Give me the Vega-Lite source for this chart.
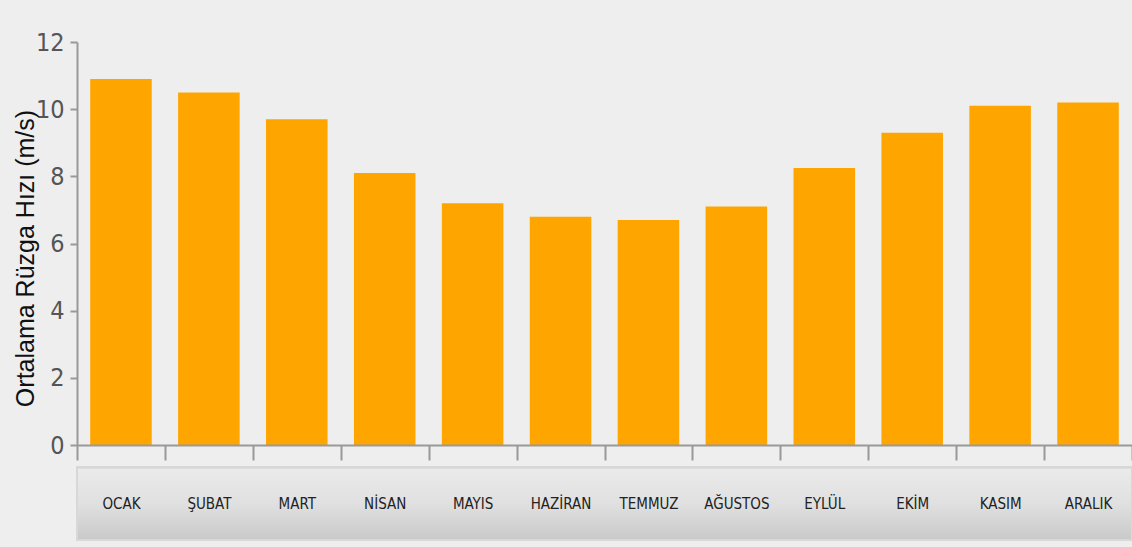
{
  "$schema": "https://vega.github.io/schema/vega-lite/v6.json",
  "autosize": "none",
  "width": 1055,
  "height": 403,
  "padding": {"left": 77, "top": 42, "right": 0, "bottom": 102},
  "background": "#eeeeee",
  "config": {"view": {"stroke": null}},
  "data": {"values": [
    {"ay": "OCAK", "hiz": 10.9},
    {"ay": "ŞUBAT", "hiz": 10.5},
    {"ay": "MART", "hiz": 9.7},
    {"ay": "NİSAN", "hiz": 8.1},
    {"ay": "MAYIS", "hiz": 7.2},
    {"ay": "HAZİRAN", "hiz": 6.8},
    {"ay": "TEMMUZ", "hiz": 6.7},
    {"ay": "AĞUSTOS", "hiz": 7.1},
    {"ay": "EYLÜL", "hiz": 8.25},
    {"ay": "EKİM", "hiz": 9.3},
    {"ay": "KASIM", "hiz": 10.1},
    {"ay": "ARALIK", "hiz": 10.2}
  ]},
  "layer": [
    {
      "mark": {"type": "rect", "clip": false,
        "color": {"gradient": "linear", "x1": 0, "y1": 0, "x2": 0, "y2": 1,
          "stops": [{"offset": 0, "color": "#ebebeb"}, {"offset": 0.5, "color": "#e0e0e0"}, {"offset": 1, "color": "#c9c9c9"}]},
        "stroke": "#d8d8d8", "strokeWidth": 2},
      "encoding": {
        "y": {"datum": -0.68, "type": "quantitative"},
        "y2": {"datum": -2.83}
      }
    },
    {
      "mark": {"type": "bar", "color": "#ffa500", "width": {"band": 0.7}},
      "encoding": {
        "x": {
          "field": "ay", "type": "nominal", "sort": null,
          "scale": {"paddingInner": 0, "paddingOuter": 0},
          "axis": {
            "title": null, "labelAngle": 0, "zindex": 1,
            "tickBand": "extent", "tickSize": 15, "tickColor": "#999999", "tickWidth": 2,
            "domainColor": "#999999", "domainWidth": 2,
            "labelPadding": 36, "labelFontSize": 15, "labelColor": "#222222",
            "labelFont": "DejaVu Sans Condensed, Liberation Sans Narrow, Roboto, sans-serif"
          }
        },
        "y": {
          "field": "hiz", "type": "quantitative",
          "scale": {"domain": [0, 12], "nice": false},
          "axis": {
            "title": "Ortalama Rüzga Hızı (m/s)", "values": [0, 2, 4, 6, 8, 10, 12],
            "grid": false, "tickSize": 7, "tickColor": "#999999", "tickWidth": 2,
            "domainColor": "#999999", "domainWidth": 2,
            "labelFontSize": 25, "labelColor": "#555555", "labelPadding": 6,
            "labelFont": "DejaVu Sans Condensed, Liberation Sans Narrow, Roboto, sans-serif",
            "titleFont": "Liberation Sans", "titleFontSize": 25, "titleFontWeight": "normal",
            "titleColor": "#111111", "titleX": -52, "titleY": 216, "titleAngle": -90,
            "titleAlign": "center", "titleBaseline": "middle"
          }
        }
      }
    }
  ]
}
